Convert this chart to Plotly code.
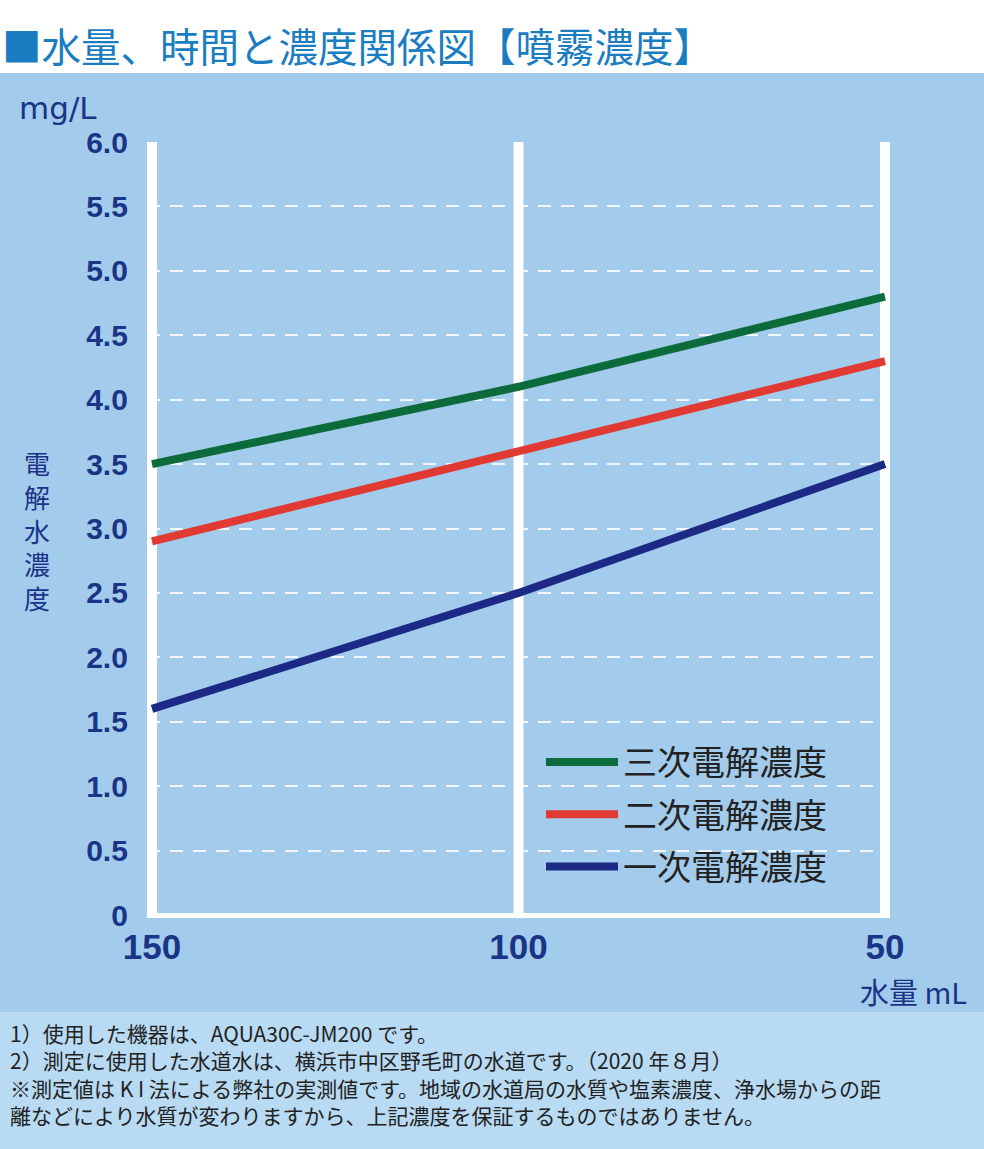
import plotly.graph_objects as go

W, H = 984, 1149

water_ml = [150, 100, 50]
tertiary = [3.5, 4.1, 4.8]
secondary = [2.9, 3.6, 4.3]
primary = [1.6, 2.5, 3.5]

series_names = ["三次電解濃度", "二次電解濃度", "一次電解濃度"]
series_values = [tertiary, secondary, primary]
series_colors = ["#0b6b3a", "#e03a32", "#1c2a85"]

y_tickvals = [0, 0.5, 1.0, 1.5, 2.0, 2.5, 3.0, 3.5, 4.0, 4.5, 5.0, 5.5, 6.0]
y_ticktext = ["0", "0.5", "1.0", "1.5", "2.0", "2.5", "3.0", "3.5", "4.0", "4.5", "5.0", "5.5", "6.0"]
x_tickvals = [150, 100, 50]
x_ticktext = ["150", "100", "50"]

title_text = "■水量、時間と濃度関係図【噴霧濃度】"
y_unit = "mg/L"
y_title_chars = ["電", "解", "水", "濃", "度"]
x_title = "水量 mL"
footnotes = [
    "1）使用した機器は、AQUA30C-JM200 です。",
    "2）測定に使用した水道水は、横浜市中区野毛町の水道です。（2020 年８月）",
    "※測定値は K I 法による弊社の実測値です。地域の水道局の水質や塩素濃度、浄水場からの距",
    "離などにより水質が変わりますから、上記濃度を保証するものではありません。",
]

NAVY = "#1a3488"
JP = "Noto Sans CJK JP"
NUM = "Liberation Sans"

def px_x(p):
    return p / W

def px_y(p):
    return 1 - p / H

# x range padded slightly so the outer white guide lines are not clipped
X_PAD = 0.7
x_lo, x_hi = max(x_tickvals) + X_PAD, min(x_tickvals) - X_PAD
px_per_unit = (885 - 152) / (max(x_tickvals) - min(x_tickvals))
dom_l = 152 - X_PAD * px_per_unit
dom_r = 885 + X_PAD * px_per_unit

fig = go.Figure()
for i, (name, vals, col) in enumerate(zip(series_names, series_values, series_colors)):
    fig.add_trace(go.Scatter(
        x=water_ml, y=vals, mode="lines", name=name,
        line=dict(color=col, width=8), legendgroup=f"g{i}",
    ))

shapes = [
    dict(type="rect", xref="paper", yref="paper", x0=0, x1=1, y0=0, y1=px_y(73),
         fillcolor="#a3cbeb", line_width=0, layer="below"),
    dict(type="rect", xref="paper", yref="paper", x0=0, x1=1, y0=0, y1=px_y(1012),
         fillcolor="#b8daf3", line_width=0, layer="below"),
]
for xv in x_tickvals:
    shapes.append(dict(type="line", xref="x", yref="y", x0=xv, x1=xv,
                       y0=y_tickvals[0], y1=y_tickvals[-1],
                       line=dict(color="white", width=10), layer="below"))

annotations = [
    dict(text=title_text, xref="paper", yref="paper", x=0, y=px_y(45),
         xanchor="left", yanchor="middle", showarrow=False,
         font=dict(family=JP, size=39.5, color="#1b7dc1")),
    dict(text=y_unit, xref="paper", yref="paper", x=px_x(58), y=px_y(108),
         xanchor="center", yanchor="middle", showarrow=False,
         font=dict(family="DejaVu Sans", size=31, color=NAVY)),
    dict(text=x_title, xref="paper", yref="paper", x=px_x(913), y=px_y(991),
         xanchor="center", yanchor="middle", showarrow=False,
         font=dict(family=JP, size=29, color=NAVY)),
    # vertical axis title, one character per line
    dict(text="<br>".join(y_title_chars), xref="paper", yref="paper", x=px_x(37), y=px_y(530),
         xanchor="center", yanchor="middle", showarrow=False,
         font=dict(family=JP, size=26, color=NAVY)),
    # footnotes as one multi-line block
    dict(text="<br>".join(footnotes), xref="paper", yref="paper", x=px_x(8), y=px_y(1074),
         xanchor="left", yanchor="middle", align="left", showarrow=False,
         font=dict(family=JP, size=21, color="#222222")),
]

fig.update_layout(
    width=W, height=H, margin=dict(l=0, r=0, t=0, b=0, pad=0, autoexpand=False),
    paper_bgcolor="white", plot_bgcolor="rgba(0,0,0,0)",
    shapes=shapes, annotations=annotations,
    showlegend=True,
    legend=dict(x=px_x(541), y=px_y(733.5), xanchor="left", yanchor="top",
                bgcolor="rgba(0,0,0,0)", font=dict(family=JP, size=34, color="#222222"),
                tracegroupgap=5, itemwidth=72),
    xaxis=dict(domain=[px_x(dom_l), px_x(dom_r)], range=[x_lo, x_hi], tickvals=x_tickvals, ticktext=x_ticktext,
               showgrid=False, zeroline=False, showline=False, automargin=False,
               ticks="", ticklabelstandoff=8,
               tickfont=dict(family=NUM, size=35, color=NAVY, weight="bold")),
    yaxis=dict(domain=[px_y(915), px_y(142)], range=[0, 6], tickvals=y_tickvals, ticktext=y_ticktext,
               showgrid=True, gridcolor="rgba(255,255,255,0.85)", gridwidth=2, griddash="13px,10px",
               zeroline=True, zerolinecolor="white", zerolinewidth=5, showline=False, automargin=False,
               ticks="", ticklabelstandoff=18,
               tickfont=dict(family=NUM, size=30, color=NAVY, weight="bold")),
)

fig.write_html("out.html", config={"displayModeBar": False},
               post_script="document.body.style.margin='0';")
